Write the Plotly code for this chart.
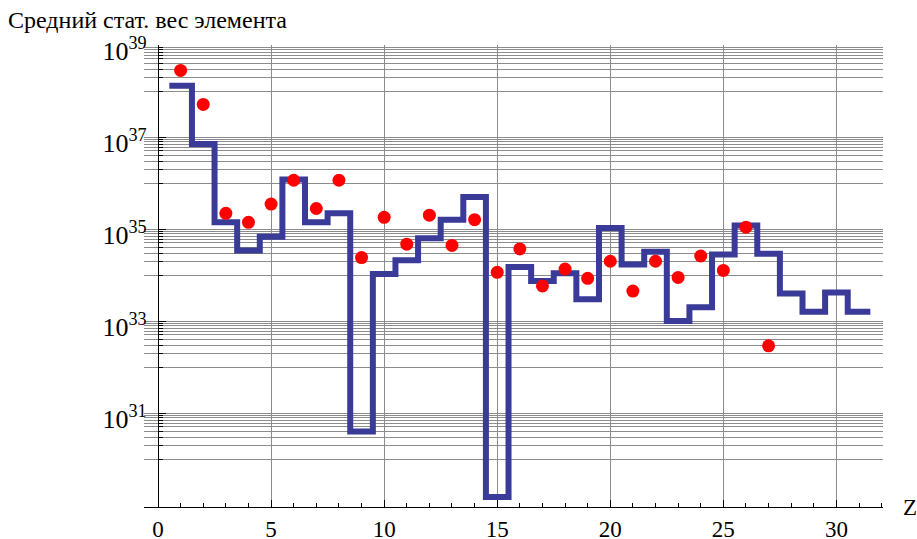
import plotly.graph_objects as go

# ---- data ----
step_z = list(range(1, 32))
step_values = [1.3e38, 7.1e36, 1.4e35, 3.4e34, 6.8e34, 1.2e36, 1.4e35, 2.2e35, 4.0e30, 1.05e34,
               2.1e34, 6.3e34, 1.6e35, 5.0e35, 1.5e29, 1.5e34, 7.4e33, 1.1e34, 3.0e33, 1.05e35,
               1.7e34, 3.2e34, 1.0e33, 2.0e33, 2.8e34, 1.2e35, 2.9e34, 4.0e33, 1.6e33, 4.2e33,
               1.6e33]
dot_z = list(range(1, 28))
dot_values = [2.8e38, 5.1e37, 2.2e35, 1.4e35, 3.5e35, 1.15e36, 2.8e35, 1.15e36, 2.4e34, 1.8e35,
              4.7e34, 2.0e35, 4.4e34, 1.6e35, 1.15e34, 3.7e34, 5.8e33, 1.35e34, 8.5e33, 2.0e34,
              4.5e33, 2.0e34, 8.9e33, 2.6e34, 1.26e34, 1.1e35, 2.9e32]
y_major_exp = [31, 33, 35, 37, 39]
y_minor_exp = [30, 32, 34, 36, 38]
x_ticks = [0, 5, 10, 15, 20, 25, 30]
title_text = "Средний стат. вес элемента"
x_label = "Z"

FONT = "Liberation Serif"
X_RANGE = [-0.62, 32.06]
ML, MR, MT, MB = 144, 34, 45, 32

# step edges built from the step data (each value spans Z-0.5 .. Z+0.5)
edge_x = [z - 0.5 for z in step_z] + [step_z[-1] + 0.5]
edge_y = step_values + [step_values[-1]]

major_vals = [10.0 ** e for e in y_major_exp]
major_text = ["10<sup>%d</sup>" % e for e in y_major_exp]
minor_vals = [k * 10.0 ** e for e in y_minor_exp for k in range(1, 10)]

fig = go.Figure()
fig.add_trace(go.Scatter(
    x=edge_x, y=edge_y, mode="lines", line_shape="hv",
    line=dict(color="#3a3a98", width=6), hoverinfo="skip", showlegend=False))
fig.add_trace(go.Scatter(
    x=dot_z, y=dot_values, mode="markers",
    marker=dict(color="#ff0000", size=13, line=dict(width=0)), showlegend=False))

grid_col = "#8c8c8c"
fig.update_layout(
    width=917, height=539,
    margin=dict(l=ML, r=MR, t=MT, b=MB, autoexpand=False),
    paper_bgcolor="white", plot_bgcolor="white",
    font=dict(family=FONT, size=23, color="black"),
    title=dict(text=title_text, x=8 / 917, xanchor="left", xref="container",
               y=1 - 20 / 539, yanchor="middle", yref="container",
               font=dict(family=FONT, size=24, color="black")),
    xaxis=dict(
        range=X_RANGE, tickvals=x_ticks, ticktext=[str(t) for t in x_ticks],
        automargin=False,
        ticks="inside", ticklen=7, tickcolor="black", tickwidth=1,
        showline=True, linecolor="black", linewidth=1.3, mirror=False,
        showgrid=True, gridcolor=grid_col, gridwidth=1, zeroline=False,
        tickfont=dict(family=FONT, size=23), ticklabelstandoff=1,
        minor=dict(dtick=1, ticks="inside", ticklen=4, tickcolor="black", showgrid=False),
    ),
    yaxis=dict(
        type="log", range=[28.96, 39.0], automargin=False,
        anchor="free", position=(0 - X_RANGE[0]) / (X_RANGE[1] - X_RANGE[0]),
        tickvals=major_vals, ticktext=major_text,
        ticks="inside", ticklen=7, tickcolor="black", tickwidth=1,
        showline=True, linecolor="black", linewidth=1.3,
        showgrid=True, gridcolor=grid_col, gridwidth=1, zeroline=False,
        tickfont=dict(family=FONT, size=26), ticklabelstandoff=6, ticklabelshift=6,
        minor=dict(tickvals=minor_vals, ticks="inside", ticklen=4, tickcolor="black",
                   showgrid=True, gridcolor=grid_col, gridwidth=1),
    ),
    annotations=[dict(text=x_label, xref="paper", yref="paper",
                      x=(910 - ML) / (917 - ML - MR), y=0, xanchor="center", yanchor="middle",
                      showarrow=False, font=dict(family=FONT, size=23, color="black"))],
)

fig.write_html("out.html", config={"displayModeBar": False},
               post_script="document.body.style.margin='0';document.body.style.overflow='hidden';")
